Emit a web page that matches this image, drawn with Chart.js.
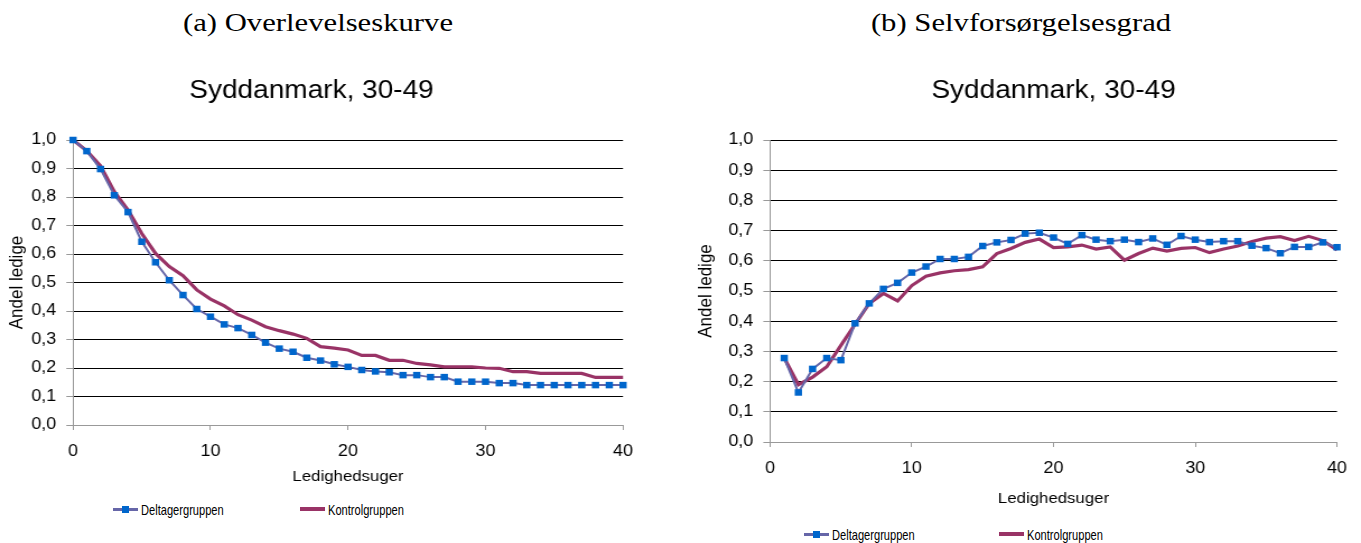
<!DOCTYPE html>
<html>
<head>
<meta charset="utf-8">
<script src="https://cdn.jsdelivr.net/npm/chart.js@4.4.1/dist/chart.umd.min.js"></script>
<style>
    html, body {margin: 0; padding: 0; background: #fff;}
    body {position: relative; width: 1361px; height: 543px; overflow: hidden; font-family: 'Liberation Sans', Arial, sans-serif; color: #000;}
    .heading {position: absolute; top: 10px; font-family: 'Liberation Serif', 'Times New Roman', serif; font-size: 26px; line-height: 1; white-space: nowrap; transform: translateX(-50%) scaleX(1.18);}
    .chart_box {position: absolute; top: 60px; transform: scaleX(1.12); transform-origin: 0 0;}
    .chart_legend .item {position: absolute; display: flex; align-items: center; height: 16px; margin: 0; white-space: nowrap; font-size: 15px;}
    .chart_legend .item i {position: relative; display: inline-block; width: 25px;}
    .chart_legend .item i b {position: absolute; left: 9px; width: 7px; height: 7px; background: #0066cc;}
    .chart_legend .item span {display: inline-block; margin-left: 3px; transform: scaleX(0.74); transform-origin: 0 50%;}
</style>
</head>
<body>
<div class="heading" style="left:318px">(a) Overlevelseskurve</div>
<div class="heading" style="left:1021px">(b) Selvforsørgelsesgrad</div>

<div class="chart_box" style="left:0; width:607px; height:430px"><canvas id="chart_a"></canvas></div>
<div class="chart_box" style="left:680px; width:608px; height:452px"><canvas id="chart_b"></canvas></div>

<div class="chart_legend" id="legend_a"></div>
<div class="chart_legend" id="legend_b"></div>

<script>
//텍스트
const chartTitle = 'Syddanmark, 30-49';
const xTitle = 'Ledighedsuger';
const yTitle = 'Andel ledige';
const seriesLabels = ['Deltagergruppen', 'Kontrolgruppen'];

//(a) overlevelseskurve - uge 0~40
const weeksA = [0, 1, 2, 3, 4, 5, 6, 7, 8, 9, 10, 11, 12, 13, 14, 15, 16, 17, 18, 19, 20,
    21, 22, 23, 24, 25, 26, 27, 28, 29, 30, 31, 32, 33, 34, 35, 36, 37, 38, 39, 40];
const deltagerA = [1.000, 0.961, 0.898, 0.806, 0.747, 0.643, 0.571, 0.508, 0.456, 0.407, 0.380,
    0.353, 0.340, 0.316, 0.289, 0.268, 0.257, 0.236, 0.226, 0.213, 0.204,
    0.193, 0.188, 0.185, 0.175, 0.175, 0.168, 0.168, 0.152, 0.152, 0.152,
    0.147, 0.147, 0.140, 0.140, 0.140, 0.140, 0.140, 0.140, 0.140, 0.140];
const kontrolA = [1.000, 0.962, 0.909, 0.819, 0.754, 0.672, 0.602, 0.556, 0.524, 0.474, 0.442,
    0.418, 0.387, 0.368, 0.345, 0.331, 0.319, 0.304, 0.275, 0.270, 0.263,
    0.244, 0.244, 0.227, 0.227, 0.216, 0.211, 0.204, 0.204, 0.204, 0.200,
    0.199, 0.187, 0.187, 0.181, 0.181, 0.181, 0.181, 0.167, 0.167, 0.167];

//(b) selvforsørgelsesgrad - uge 1~40
const weeksB = [1, 2, 3, 4, 5, 6, 7, 8, 9, 10, 11, 12, 13, 14, 15, 16, 17, 18, 19, 20,
    21, 22, 23, 24, 25, 26, 27, 28, 29, 30, 31, 32, 33, 34, 35, 36, 37, 38, 39, 40];
const deltagerB = [0.278, 0.164, 0.242, 0.278, 0.271, 0.393, 0.459, 0.507, 0.527, 0.561,
    0.581, 0.606, 0.606, 0.613, 0.649, 0.661, 0.669, 0.690, 0.693, 0.677,
    0.656, 0.685, 0.670, 0.665, 0.670, 0.662, 0.674, 0.653, 0.682, 0.670,
    0.662, 0.665, 0.665, 0.650, 0.642, 0.625, 0.646, 0.646, 0.661, 0.645];
const kontrolB = [0.278, 0.190, 0.215, 0.249, 0.320, 0.390, 0.459, 0.492, 0.467, 0.518,
    0.549, 0.560, 0.567, 0.571, 0.580, 0.624, 0.641, 0.661, 0.672, 0.644,
    0.646, 0.652, 0.639, 0.646, 0.602, 0.624, 0.642, 0.632, 0.641, 0.644,
    0.627, 0.639, 0.649, 0.664, 0.675, 0.680, 0.667, 0.681, 0.667, 0.636];

//axis ticks
const xTicks = {min: 0, max: 40, step: 10};
const yTicks = {min: 0, max: 1, step: 0.1};

Chart.defaults.font.family = "'Liberation Sans', Arial, sans-serif";
Chart.defaults.color = '#000';

//chart - line 생성
function createLineChart(canvasId, weeks, delt, kont, opt) {
    return new Chart(document.getElementById(canvasId), {
        type: 'line',
        data: {
            datasets: [{
                label: seriesLabels[0],
                data: weeks.map((w, i) => ({x: w, y: delt[i]})),
                borderColor: '#6666a8',
                borderWidth: 2,
                pointStyle: 'rect',
                pointRadius: 4.6,
                pointBorderWidth: 0,
                pointBackgroundColor: '#0066cc',
                tension: 0,
                clip: false
            }, {
                label: seriesLabels[1],
                data: weeks.map((w, i) => ({x: w, y: kont[i]})),
                borderColor: '#993366',
                borderWidth: 3.2,
                pointRadius: 0,
                tension: 0,
                clip: false
            }]
        },
        options: {
            responsive: true,
            maintainAspectRatio: false,
            animation: false,
            layout: {padding: {top: 0, left: 0, bottom: 0, right: opt.padRight}},
            plugins: {
                legend: {display: false},
                tooltip: {enabled: false},
                title: {
                    display: true,
                    text: chartTitle,
                    fullSize: opt.titleFull,
                    color: '#000',
                    font: {size: 25, weight: 'normal'},
                    padding: {top: 16, bottom: 34}
                }
            },
            scales: {
                x: {
                    type: 'linear',
                    min: xTicks.min,
                    max: xTicks.max,
                    ticks: {stepSize: xTicks.step, padding: 12, maxRotation: 0, color: '#000', font: {size: 16}},
                    grid: {drawOnChartArea: false, drawTicks: true, tickLength: 5, color: '#999'},
                    border: {color: '#999'},
                    title: {display: true, text: xTitle, color: '#000', font: {size: 15}, padding: {top: 0, bottom: 4}},
                    afterFit: s => {s.height = opt.xHeight;}
                },
                y: {
                    min: yTicks.min,
                    max: yTicks.max,
                    ticks: {
                        stepSize: yTicks.step,
                        padding: 9,
                        color: '#000',
                        font: {size: 16},
                        callback: v => v.toFixed(1).replace('.', ',') //소수점 콤마
                    },
                    grid: {color: c => c.tick && c.tick.value === 0 ? '#999' : '#000', tickColor: '#999', tickLength: 6},
                    border: {color: '#999'},
                    title: {display: true, text: yTitle, color: '#000', font: {size: 17}, padding: {top: opt.yTitlePad, bottom: 0}},
                    afterFit: s => {s.width = opt.yWidth;}
                }
            }
        }
    });
}

//legend - html 생성
function createLegend(legendId, chart, lefts, top) {
    const legendEl = document.getElementById(legendId);
    legendEl.innerHTML = '';
    chart.data.datasets.forEach((ds, i) => {
        const h = ds.pointRadius ? 3 : 4;
        const marker = ds.pointRadius ? `<b style="top:${(h - 7) / 2}px"></b>` : '';
        legendEl.insertAdjacentHTML('beforeend', `
            <p class="item" style="left:${lefts[i]}px; top:${top}px">
                <i style="height:${h}px; background:${ds.borderColor}">${marker}</i>
                <span>${ds.label}</span>
            </p>
        `);
    });
}

const chartA = createLineChart('chart_a', weeksA, deltagerA, kontrolA,
    {yWidth: 65.2, padRight: 50.75, xHeight: 65, yTitlePad: 5.4, titleFull: true});
const chartB = createLineChart('chart_b', weeksB, deltagerB, kontrolB,
    {yWidth: 80.4, padRight: 21.4, xHeight: 70, yTitlePad: 13, titleFull: false});

createLegend('legend_a', chartA, [113, 300], 501);
createLegend('legend_b', chartB, [804, 999], 526);
</script>
</body>
</html>
